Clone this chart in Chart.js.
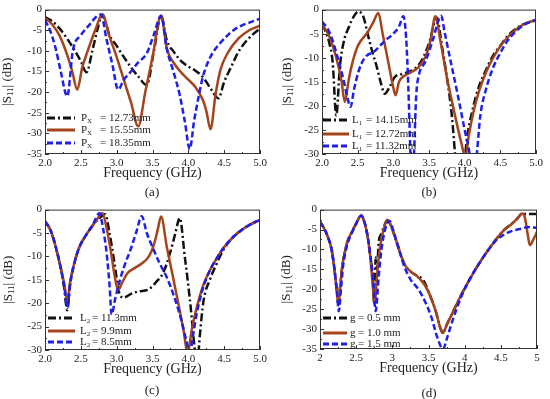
<!DOCTYPE html>
<html>
<head>
<meta charset="utf-8">
<script src="https://cdn.jsdelivr.net/npm/chart.js@4"></script>
<style>
  body { margin: 0; width: 550px; height: 399px; position: relative; background: #fff; overflow: hidden; }
  canvas { position: absolute; }
  .cap { position: absolute; font: 13px "Liberation Serif", serif; color: #222; transform: translate(-50%, -50%); }
</style>
</head>
<body>
<canvas id="chartA" width="275" height="200" style="left:0;top:0"></canvas>
<canvas id="chartB" width="275" height="200" style="left:275px;top:0"></canvas>
<canvas id="chartC" width="275" height="199" style="left:0;top:200px"></canvas>
<canvas id="chartD" width="275" height="199" style="left:275px;top:200px"></canvas>
<div class="cap" style="left:152px;top:192px">(a)</div>
<div class="cap" style="left:429px;top:192px">(b)</div>
<div class="cap" style="left:152px;top:390px">(c)</div>
<div class="cap" style="left:429px;top:393px">(d)</div>
<script>
// ---- panel (a): Px sweep ----
const aFreq1 = [2.0, 2.1, 2.2, 2.3, 2.4, 2.5, 2.58, 2.66, 2.73, 2.8, 2.9, 3.0, 3.1, 3.2, 3.3, 3.42, 3.52, 3.62, 3.7, 3.8, 3.9, 4.0, 4.1, 4.2, 4.3, 4.42, 4.5, 4.6, 4.7, 4.8, 4.9, 5.0];
const aS11_1 = [-1.8, -2.8, -4.5, -6.8, -9.5, -12.5, -15.2, -10, -5, -1.2, -6.2, -8.8, -11.5, -14, -16.2, -18.3, -10, -1.5, -7.5, -10.3, -12.5, -13.8, -14.8, -16.3, -18.8, -21.5, -17.5, -13.8, -10.2, -7.8, -6, -4.6];
const aFreq2 = [2.0, 2.1, 2.2, 2.3, 2.38, 2.45, 2.52, 2.6, 2.7, 2.8, 2.9, 3.0, 3.1, 3.2, 3.3, 3.4, 3.5, 3.62, 3.7, 3.8, 3.9, 4.0, 4.1, 4.2, 4.25, 4.31, 4.38, 4.45, 4.55, 4.7, 4.85, 5.0];
const aS11_2 = [-2, -3.6, -6.2, -10.5, -15, -19.4, -14, -9.8, -5, -1.2, -6.5, -11.5, -17, -22.5, -28.3, -19.9, -11.5, -1.5, -9.5, -13, -15.2, -17, -18.8, -21.8, -24.5, -29, -20.5, -14.5, -10.5, -7, -5, -3.9];
const aFreq3 = [2.0, 2.07, 2.15, 2.22, 2.31, 2.39, 2.5, 2.62, 2.7, 2.78, 2.86, 2.94, 3.02, 3.1, 3.2, 3.3, 3.42, 3.52, 3.62, 3.7, 3.8, 3.88, 3.95, 4.02, 4.08, 4.13, 4.2, 4.27, 4.35, 4.44, 4.55, 4.62, 4.75, 4.86, 5.0];
const aS11_3 = [-2.6, -5, -9.5, -15, -21, -9.8, -6.2, -3.7, -2, -1.2, -7.3, -13.3, -19.4, -17, -15, -12.8, -10.6, -6, -1.5, -9.5, -15.5, -20.7, -27, -33.8, -27, -22.3, -16.5, -12.9, -10.2, -8.2, -6.2, -5.1, -3.8, -3.1, -2.2];
const aLabels = ["= 12.73mm", "= 15.55mm", "= 18.35mm"];

// ---- panel (b): L1 sweep ----
const bFreq1 = [2.0, 2.05, 2.1, 2.15, 2.2, 2.25, 2.3, 2.38, 2.45, 2.51, 2.58, 2.64, 2.7, 2.77, 2.83, 2.88, 2.95, 3.02, 3.1, 3.2, 3.3, 3.4, 3.5, 3.61, 3.68, 3.75, 3.82, 3.87, 3.92, 3.97, 4.03, 4.1, 4.2, 4.3, 4.4, 4.5, 4.6, 4.7, 4.8, 4.9, 5.0];
const bS11_1 = [-3.1, -4.5, -6.8, -11, -22, -12, -7, -3.5, -1.3, -0.4, -1.5, -5, -8.5, -12, -15.5, -17.5, -16, -14, -13.5, -13, -12.3, -10.5, -7, -1.7, -7.5, -14, -22, -31, -40, -36, -27, -21.5, -16, -12.5, -9.5, -7.5, -5.5, -4.2, -3.2, -2.6, -2.2];
const bFreq2 = [2.0, 2.1, 2.2, 2.27, 2.32, 2.37, 2.41, 2.5, 2.64, 2.72, 2.79, 2.85, 2.93, 2.99, 3.03, 3.08, 3.15, 3.25, 3.35, 3.45, 3.52, 3.59, 3.66, 3.75, 3.85, 3.95, 4.01, 4.06, 4.12, 4.2, 4.3, 4.4, 4.5, 4.6, 4.7, 4.8, 4.9, 5.0];
const bS11_2 = [-3, -5.5, -10, -14.5, -19.2, -15, -12, -7.6, -4.7, -2.6, -0.7, -5, -11, -15.5, -17.8, -15, -13.8, -13, -12, -9.8, -6.5, -1.4, -6.5, -14, -21, -27.5, -30.5, -26, -21.5, -17, -13, -10, -7.6, -5.8, -4.4, -3.3, -2.6, -2.2];
const bFreq3 = [2.0, 2.08, 2.15, 2.22, 2.3, 2.36, 2.4, 2.45, 2.52, 2.6, 2.74, 2.88, 3.0, 3.08, 3.14, 3.18, 3.21, 3.24, 3.26, 3.29, 3.32, 3.36, 3.45, 3.55, 3.67, 3.72, 3.8, 3.9, 4.0, 4.07, 4.12, 4.17, 4.22, 4.3, 4.4, 4.5, 4.6, 4.7, 4.8, 4.9, 5.0];
const bS11_3 = [-2.5, -4, -6.5, -10, -14.5, -18.5, -20.2, -16.5, -12.5, -10, -8.6, -6.5, -5, -3.5, -1.4, -6, -16, -30, -38, -30, -18, -13.5, -10.8, -6.5, -1.3, -4.8, -10.5, -17.5, -25, -30, -36, -30, -22, -16.5, -12, -9, -6.5, -4.8, -3.5, -2.7, -2.2];
const bLabels = ["= 14.15mm", "= 12.72mm", "= 11.32mm"];

// ---- panel (c): L2 sweep ----
const cFreq1 = [2.0, 2.08, 2.15, 2.22, 2.27, 2.31, 2.35, 2.4, 2.48, 2.57, 2.66, 2.76, 2.84, 2.9, 2.97, 3.03, 3.1, 3.2, 3.3, 3.45, 3.55, 3.65, 3.75, 3.82, 3.88, 3.95, 4.02, 4.09, 4.12, 4.16, 4.21, 4.3, 4.4, 4.5, 4.63, 4.75, 4.86, 5.0];
const cS11_1 = [-2.5, -4.5, -8, -12.5, -17, -21.5, -16, -12, -8, -5.5, -3.5, -1.8, -1, -5, -11.5, -17.5, -18.8, -18, -17.5, -17, -15.5, -13.5, -9, -5, -1.8, -10, -19, -30, -34, -27, -19.7, -15, -11.4, -8.3, -5.8, -4.3, -3.2, -2.2];
const cFreq2 = [2.0, 2.08, 2.15, 2.22, 2.27, 2.31, 2.35, 2.4, 2.48, 2.57, 2.66, 2.73, 2.8, 2.86, 2.92, 2.97, 3.02, 3.08, 3.15, 3.25, 3.35, 3.45, 3.52, 3.57, 3.62, 3.7, 3.78, 3.86, 3.93, 3.99, 4.05, 4.1, 4.2, 4.3, 4.4, 4.5, 4.63, 4.75, 4.86, 5.0];
const cS11_2 = [-2.5, -4.5, -8, -12.5, -16, -19.5, -15.5, -12, -8, -5.5, -3.5, -2, -0.7, -4, -9, -14, -17.2, -15.5, -13.6, -12.5, -11.5, -10, -7.5, -4.5, -1.5, -8, -14, -20, -25.5, -30.5, -25.5, -22, -16.5, -13, -10.3, -8, -5.8, -4.3, -3.2, -2.2];
const cFreq3 = [2.0, 2.08, 2.15, 2.22, 2.27, 2.31, 2.35, 2.4, 2.48, 2.57, 2.66, 2.76, 2.81, 2.86, 2.9, 2.93, 2.98, 3.05, 3.12, 3.19, 3.27, 3.35, 3.42, 3.5, 3.6, 3.7, 3.8, 3.9, 3.98, 4.02, 4.07, 4.12, 4.2, 4.3, 4.4, 4.5, 4.63, 4.75, 4.86, 5.0];
const cS11_3 = [-2.5, -4.5, -8, -12.5, -16.5, -21, -16, -12, -8, -5.5, -3.5, -0.8, -4, -9.3, -16, -22.4, -19, -14.8, -11.5, -8.7, -5, -1.4, -5, -8, -11.5, -14.5, -18.5, -23.5, -28.5, -30.5, -26.5, -22, -17, -13, -10.3, -8, -5.8, -4.3, -3.2, -2.2];
const cLabels = ["= 11.3mm", "= 9.9mm", "= 8.5mm"];

// ---- panel (d): gap sweep ----
const dFreq1 = [2.0, 2.05, 2.11, 2.16, 2.2, 2.23, 2.255, 2.28, 2.31, 2.34, 2.38, 2.43, 2.5, 2.57, 2.62, 2.66, 2.69, 2.73, 2.75, 2.77, 2.79, 2.81, 2.85, 2.89, 2.93, 2.98, 3.03, 3.08, 3.13, 3.17, 3.25, 3.36, 3.42, 3.46, 3.52, 3.6, 3.66, 3.7, 3.75, 3.83, 3.95, 4.07, 4.19, 4.3, 4.42, 4.54, 4.65, 4.73, 4.79, 4.85, 5.0];
const dS11_1 = [-3.1, -4.5, -6.9, -10, -15, -20, -23.5, -19, -14, -11, -8, -6, -3.5, -1.5, -3.5, -6.9, -11, -17, -23.5, -12, -15, -8.5, -6, -4, -2.6, -4, -6.5, -9.3, -12, -13.8, -15.5, -16.8, -17.5, -18.8, -21.5, -25.5, -29.5, -31, -29, -26, -21.5, -17.5, -13.8, -10.8, -7.8, -5.2, -3.6, -2.2, -1.1, -1.1, -1.1];
const dFreq2 = [2.0, 2.05, 2.11, 2.16, 2.2, 2.23, 2.255, 2.28, 2.31, 2.34, 2.38, 2.43, 2.5, 2.57, 2.62, 2.66, 2.69, 2.72, 2.755, 2.79, 2.83, 2.88, 2.93, 2.98, 3.03, 3.08, 3.13, 3.17, 3.25, 3.36, 3.45, 3.52, 3.6, 3.66, 3.7, 3.75, 3.83, 3.95, 4.07, 4.19, 4.3, 4.42, 4.54, 4.65, 4.73, 4.79, 4.83, 4.87, 4.9, 4.95, 5.0];
const dS11_2 = [-3.1, -4.5, -6.9, -10, -15, -20, -24, -19, -14, -11, -8, -6, -3.5, -1.5, -3.5, -6.9, -11, -17, -23.8, -16, -9.3, -5, -2.6, -4, -6.5, -9.3, -12, -13.8, -15.5, -17, -19, -21.5, -25.5, -29.5, -31, -29, -26, -21.5, -17.5, -13.8, -10.8, -7.8, -5.2, -3.6, -2.2, -1, -1.8, -6, -8.9, -7.5, -5.6];
const dFreq3 = [2.0, 2.05, 2.11, 2.16, 2.2, 2.235, 2.26, 2.29, 2.32, 2.36, 2.4, 2.45, 2.5, 2.57, 2.62, 2.66, 2.7, 2.74, 2.77, 2.81, 2.85, 2.9, 2.96, 3.0, 3.05, 3.1, 3.17, 3.25, 3.36, 3.45, 3.54, 3.62, 3.7, 3.76, 3.83, 3.95, 4.07, 4.19, 4.3, 4.42, 4.55, 4.65, 4.78, 4.88, 5.0];
const dS11_3 = [-3.1, -4.5, -6.9, -10, -15, -21, -25.5, -20, -14, -10, -7.5, -5.5, -3.5, -1.5, -3.5, -6.9, -12, -19, -25.5, -17, -10, -5, -2.8, -4.5, -7.5, -10.5, -14.5, -17.5, -20, -23, -27, -32, -35, -32, -28, -22, -17.5, -13.8, -10.8, -8, -6.2, -5.4, -4.8, -4.4, -4.6];
const dLabels = ["= 0.5 mm", "= 1.0 mm", "= 1.5 mm"];

const BLACK = "#111111";
const BROWN = "#a3441c";
const BLUE = "#1f1fe8";
const SERIF = '"Liberation Serif", "Times New Roman", serif';

const toPoints = (xs, ys) => xs.map((x, i) => ({ x: x, y: ys[i] }));

// frame, inward ticks, y title and the in-plot legend
const framePlugin = {
  id: "frame",
  afterDatasetsDraw(chart, args, opts) {
    const ctx = chart.ctx;
    const a = chart.chartArea;
    const xs = chart.scales.x, ys = chart.scales.y;
    ctx.save();
    ctx.strokeStyle = "#333";
    ctx.lineWidth = 1;
    ctx.strokeRect(a.left + 0.5, a.top + 0.5, a.right - a.left - 1, a.bottom - a.top - 1);

    ctx.beginPath();
    for (let v = xs.min; v <= xs.max + 1e-6; v += 0.25) {
      const px = Math.round(xs.getPixelForValue(v)) + 0.5;
      const len = Math.abs((v * 2) % 1) < 1e-6 ? 4 : 2;
      ctx.moveTo(px, a.bottom); ctx.lineTo(px, a.bottom - len);
    }
    for (let v = ys.min; v <= ys.max + 1e-6; v += 2.5) {
      const py = Math.round(ys.getPixelForValue(v)) + 0.5;
      const len = Math.abs(v % 5) < 1e-6 ? 4 : 2;
      ctx.moveTo(a.left, py); ctx.lineTo(a.left + len, py);
    }
    ctx.stroke();

    // y title |S11| (dB)
    ctx.fillStyle = "#222";
    ctx.translate(opts.yTitleX, (a.top + a.bottom) / 2);
    ctx.rotate(-Math.PI / 2);
    ctx.textBaseline = "middle";
    const big = "13px " + SERIF, small = "9px " + SERIF;
    ctx.font = big; const w1 = ctx.measureText("|S").width;
    ctx.font = small; const w2 = ctx.measureText("11").width;
    ctx.font = big; const w3 = ctx.measureText("| (dB)").width;
    let x0 = -(w1 + w2 + w3) / 2;
    ctx.fillText("|S", x0, 0);
    ctx.font = small; ctx.fillText("11", x0 + w1, 3);
    ctx.font = big; ctx.fillText("| (dB)", x0 + w1 + w2, 0);
    ctx.restore();

    // legend
    ctx.save();
    ctx.textBaseline = "middle";
    const lg = opts.legend;
    chart.data.datasets.forEach((ds, i) => {
      const y = a.bottom - lg.rows[i];
      ctx.strokeStyle = ds.borderColor;
      ctx.lineWidth = 3;
      ctx.setLineDash(ds.borderDash || []);
      ctx.beginPath();
      ctx.moveTo(a.left + lg.x0, y); ctx.lineTo(a.left + lg.x1, y);
      ctx.stroke();
      ctx.setLineDash([]);
      ctx.fillStyle = "#222";
      ctx.font = "11px " + SERIF;
      ctx.fillText(lg.sym, a.left + lg.tx, y);
      const sw = ctx.measureText(lg.sym).width;
      if (lg.sub) {
        ctx.font = "7px " + SERIF;
        ctx.fillText(lg.sub, a.left + lg.tx + sw, y + 3);
      }
      ctx.font = "11px " + SERIF;
      ctx.fillText(ds.label, a.left + lg.ex, y);
    });
    ctx.restore();
  }
};

function makePanel(id, sets, yMin, pad, yWidth, fixed, frameOpts) {
  new Chart(document.getElementById(id).getContext("2d"), {
    type: "line",
    data: {
      datasets: [
        { label: sets[0].label, data: sets[0].data, borderColor: BLACK, borderWidth: 2.5, borderDash: [8, 3, 2, 3], order: 2 },
        { label: sets[1].label, data: sets[1].data, borderColor: BROWN, borderWidth: 2.5, order: 1 },
        { label: sets[2].label, data: sets[2].data, borderColor: BLUE, borderWidth: 2.5, borderDash: [6, 3], order: 0 }
      ]
    },
    options: {
      responsive: false,
      animation: false,
      layout: { padding: pad },
      elements: { point: { radius: 0 }, line: { cubicInterpolationMode: "monotone", borderCapStyle: "butt" } },
      plugins: { legend: { display: false }, tooltip: { enabled: false }, frame: frameOpts },
      scales: {
        x: {
          type: "linear", min: 2, max: 5,
          grid: { display: false, drawTicks: false }, border: { display: false },
          ticks: {
            stepSize: 0.5, autoSkip: false, maxRotation: 0, padding: 3,
            color: "#222", font: { family: SERIF, size: 11 },
            callback: v => fixed ? v.toFixed(1) : String(v)
          },
          title: { display: true, text: "Frequency (GHz)", color: "#222", font: { family: SERIF, size: 14 }, padding: { top: 1, bottom: 3 } },
          afterFit: s => { s.height = 31; }
        },
        y: {
          min: yMin, max: 0,
          grid: { display: false, drawTicks: false }, border: { display: false },
          ticks: { stepSize: 5, padding: 3, color: "#222", font: { family: SERIF, size: 11 } },
          afterFit: s => { s.width = yWidth; }
        }
      }
    },
    plugins: [framePlugin]
  });
}

makePanel("chartA", [
  { label: aLabels[0], data: toPoints(aFreq1, aS11_1) },
  { label: aLabels[1], data: toPoints(aFreq2, aS11_2) },
  { label: aLabels[2], data: toPoints(aFreq3, aS11_3) }
], -35, { left: 0, right: 15, top: 5, bottom: 15 }, 45, true,
  { yTitleX: 8, legend: { rows: [36, 24, 11], x0: 2, x1: 30, tx: 36, ex: 55, sym: "P", sub: "X" } });

makePanel("chartB", [
  { label: bLabels[0], data: toPoints(bFreq1, bS11_1) },
  { label: bLabels[1], data: toPoints(bFreq2, bS11_2) },
  { label: bLabels[2], data: toPoints(bFreq3, bS11_3) }
], -30, { left: 0, right: 14, top: 8, bottom: 15 }, 47, true,
  { yTitleX: 13, legend: { rows: [34, 20, 8], x0: 1, x1: 27, tx: 30, ex: 44, sym: "L", sub: "1" } });

makePanel("chartC", [
  { label: cLabels[0], data: toPoints(cFreq1, cS11_1) },
  { label: cLabels[1], data: toPoints(cFreq2, cS11_2) },
  { label: cLabels[2], data: toPoints(cFreq3, cS11_3) }
], -30, { left: 0, right: 15, top: 5, bottom: 18 }, 45, true,
  { yTitleX: 9, legend: { rows: [32, 19, 8], x0: 3, x1: 30, tx: 35, ex: 47, sym: "L", sub: "2" } });

makePanel("chartD", [
  { label: dLabels[0], data: toPoints(dFreq1, dS11_1) },
  { label: dLabels[1], data: toPoints(dFreq2, dS11_2) },
  { label: dLabels[2], data: toPoints(dFreq3, dS11_3) }
], -35, { left: 0, right: 13, top: 5, bottom: 19 }, 45, false,
  { yTitleX: 12, legend: { rows: [31, 16, 5], x0: 3, x1: 27, tx: 30, ex: 38, sym: "g", sub: "" } });
</script>
</body>
</html>
